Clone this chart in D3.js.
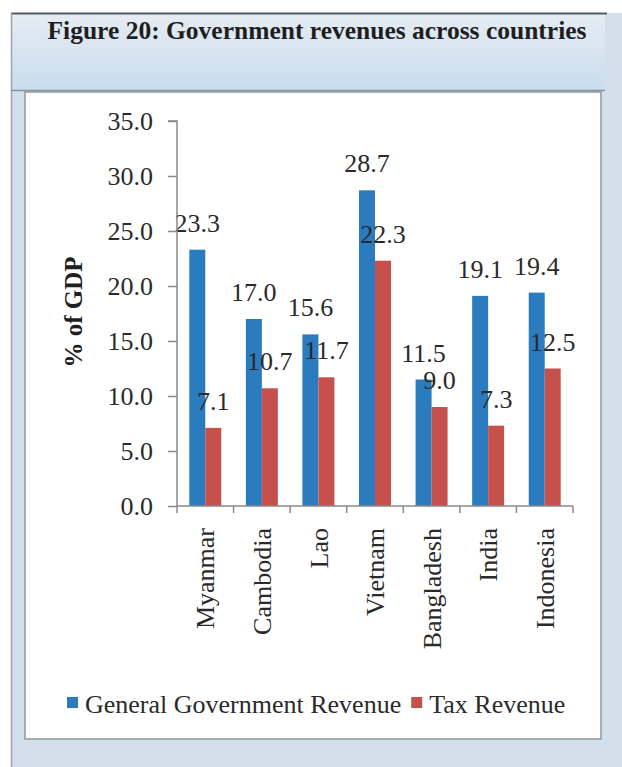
<!DOCTYPE html>
<html>
<head>
<meta charset="utf-8">
<script src="https://cdn.jsdelivr.net/npm/d3@7"></script>
<style>
  html, body { margin: 0; padding: 0; background: #ffffff; }
  svg { display: block; }
  text { font-family: "Liberation Serif", "Times New Roman", serif; }
</style>
</head>
<body>
<script>
// ---- data ----
const title = "Figure 20: Government revenues across countries";
const categories = ["Myanmar", "Cambodia", "Lao", "Vietnam", "Bangladesh", "India", "Indonesia"];
const seriesNames = ["General Government Revenue", "Tax Revenue"];
const generalRevenue = [23.3, 17.0, 15.6, 28.7, 11.5, 19.1, 19.4];
const taxRevenue = [7.1, 10.7, 11.7, 22.3, 9.0, 7.3, 12.5];
const yTicks = [0, 5, 10, 15, 20, 25, 30, 35];
const yLabel = "% of GDP";
const colors = ["#2b7bbf", "#c6504b"];

const W = 622, H = 767;
const svg = d3.select("body").append("svg").attr("width", W).attr("height", H);

// ---- frame / backgrounds ----
const defs = svg.append("defs");
const grad = defs.append("linearGradient").attr("id", "tg").attr("x1", 0).attr("y1", 0).attr("x2", 0).attr("y2", 1);
grad.append("stop").attr("offset", "0%").attr("stop-color", "#e6ecf2");
grad.append("stop").attr("offset", "100%").attr("stop-color", "#c9ddef");

svg.append("rect").attr("x", 11).attr("y", 13).attr("width", W - 11).attr("height", H - 13).attr("fill", "#d3e0ec");
svg.append("rect").attr("x", 11).attr("y", 13).attr("width", 594).attr("height", 77).attr("fill", "url(#tg)");
svg.append("line").attr("x1", 11).attr("x2", 607).attr("y1", 13.5).attr("y2", 13.5).attr("stroke", "#555b62").attr("stroke-width", 2);
svg.append("line").attr("x1", 11.5).attr("x2", 11.5).attr("y1", 13).attr("y2", H).attr("stroke", "#9aa4ae").attr("stroke-width", 1.5);
svg.append("line").attr("x1", 11).attr("x2", 605).attr("y1", 90.5).attr("y2", 90.5).attr("stroke", "#8b949c").attr("stroke-width", 1.5);

svg.append("text").attr("x", 317).attr("y", 39).attr("text-anchor", "middle")
  .attr("font-size", 25.5).attr("font-weight", "bold").attr("fill", "#1f1f1f").text(title);

// white chart panel
svg.append("rect").attr("x", 25).attr("y", 92).attr("width", 576).attr("height", 647)
  .attr("fill", "#ffffff").attr("stroke", "#8f969c").attr("stroke-width", 1.5);

// ---- scales ----
const plot = { left: 177, right: 573, top: 121, bottom: 506 };
const x = d3.scaleBand().domain(categories).range([plot.left, plot.right]).padding(0);
const xs = d3.scaleBand().domain(seriesNames).range([12.3, x.bandwidth() - 12.3]).padding(0);
const y = d3.scaleLinear().domain([0, 35]).range([plot.bottom, plot.top]);

const g = svg.append("g");

const rows = categories.map((c, i) => ({ c, vals: [generalRevenue[i], taxRevenue[i]] }));
const flat = [];
rows.forEach(r => r.vals.forEach((v, j) => flat.push({ c: r.c, s: seriesNames[j], v, j })));

// ---- bars ----
g.selectAll("rect.bar").data(flat).join("rect").attr("class", "bar")
  .attr("x", d => x(d.c) + xs(d.s))
  .attr("width", xs.bandwidth())
  .attr("y", d => y(d.v))
  .attr("height", d => y(0) - y(d.v))
  .attr("fill", d => colors[d.j]);

// ---- data labels ----
g.selectAll("text.dl").data(flat).join("text").attr("class", "dl")
  .attr("x", d => x(d.c) + xs(d.s) + xs.bandwidth() / 2)
  .attr("y", d => y(d.v) - 18)
  .attr("text-anchor", "middle").attr("font-size", 26).attr("fill", "#2a2a2a")
  .text(d => d.v.toFixed(1));

// ---- y axis ----
const yAxis = d3.axisLeft(y).tickValues(yTicks).tickSize(9).tickPadding(15).tickFormat(d3.format(".1f"));
const ya = svg.append("g").attr("transform", `translate(${plot.left},0)`).call(yAxis);
ya.select(".domain").attr("stroke", "#8a8a8a").attr("stroke-width", 1.5).attr("d", `M-9,${plot.top}H0V${plot.bottom}`);
ya.selectAll(".tick line").attr("stroke", "#8a8a8a").attr("stroke-width", 1.5);
ya.selectAll(".tick text").attr("font-size", 26).attr("fill", "#2a2a2a")
  .attr("font-family", "'Liberation Serif', 'Times New Roman', serif");

// ---- x axis ----
const xa = svg.append("g").attr("transform", `translate(0,${plot.bottom})`);
xa.append("line").attr("x1", plot.left).attr("x2", plot.right).attr("y1", 0).attr("y2", 0)
  .attr("stroke", "#8a8a8a").attr("stroke-width", 1.5);
const bounds = categories.map(c => x(c)).concat([plot.right]);
xa.selectAll("line.tk").data(bounds).join("line").attr("class", "tk")
  .attr("x1", d => d).attr("x2", d => d).attr("y1", 0).attr("y2", 7)
  .attr("stroke", "#8a8a8a").attr("stroke-width", 1.5);
xa.selectAll("text.cat").data(categories).join("text").attr("class", "cat")
  .attr("transform", d => `translate(${x(d) + x.bandwidth() / 2},22) rotate(-90)`)
  .attr("text-anchor", "end").attr("dy", "0.35em")
  .attr("font-size", 26).attr("fill", "#2a2a2a").text(d => d);

// ---- y label ----
svg.append("text").attr("transform", `translate(73,312) rotate(-90)`)
  .attr("text-anchor", "middle").attr("dy", "0.35em")
  .attr("font-size", 25).attr("font-weight", "bold").attr("fill", "#1f1f1f").text(yLabel);

// ---- legend ----
const legend = svg.append("g");
let lx = 67;
seriesNames.forEach((name, j) => {
  legend.append("rect").attr("x", lx).attr("y", 697).attr("width", 11).attr("height", 11).attr("fill", colors[j]);
  const t = legend.append("text").attr("x", lx + 18).attr("y", 713)
    .attr("font-size", 26).attr("fill", "#2a2a2a").text(name);
  lx = lx + 18 + t.node().getComputedTextLength() + 10;
});
</script>
</body>
</html>
